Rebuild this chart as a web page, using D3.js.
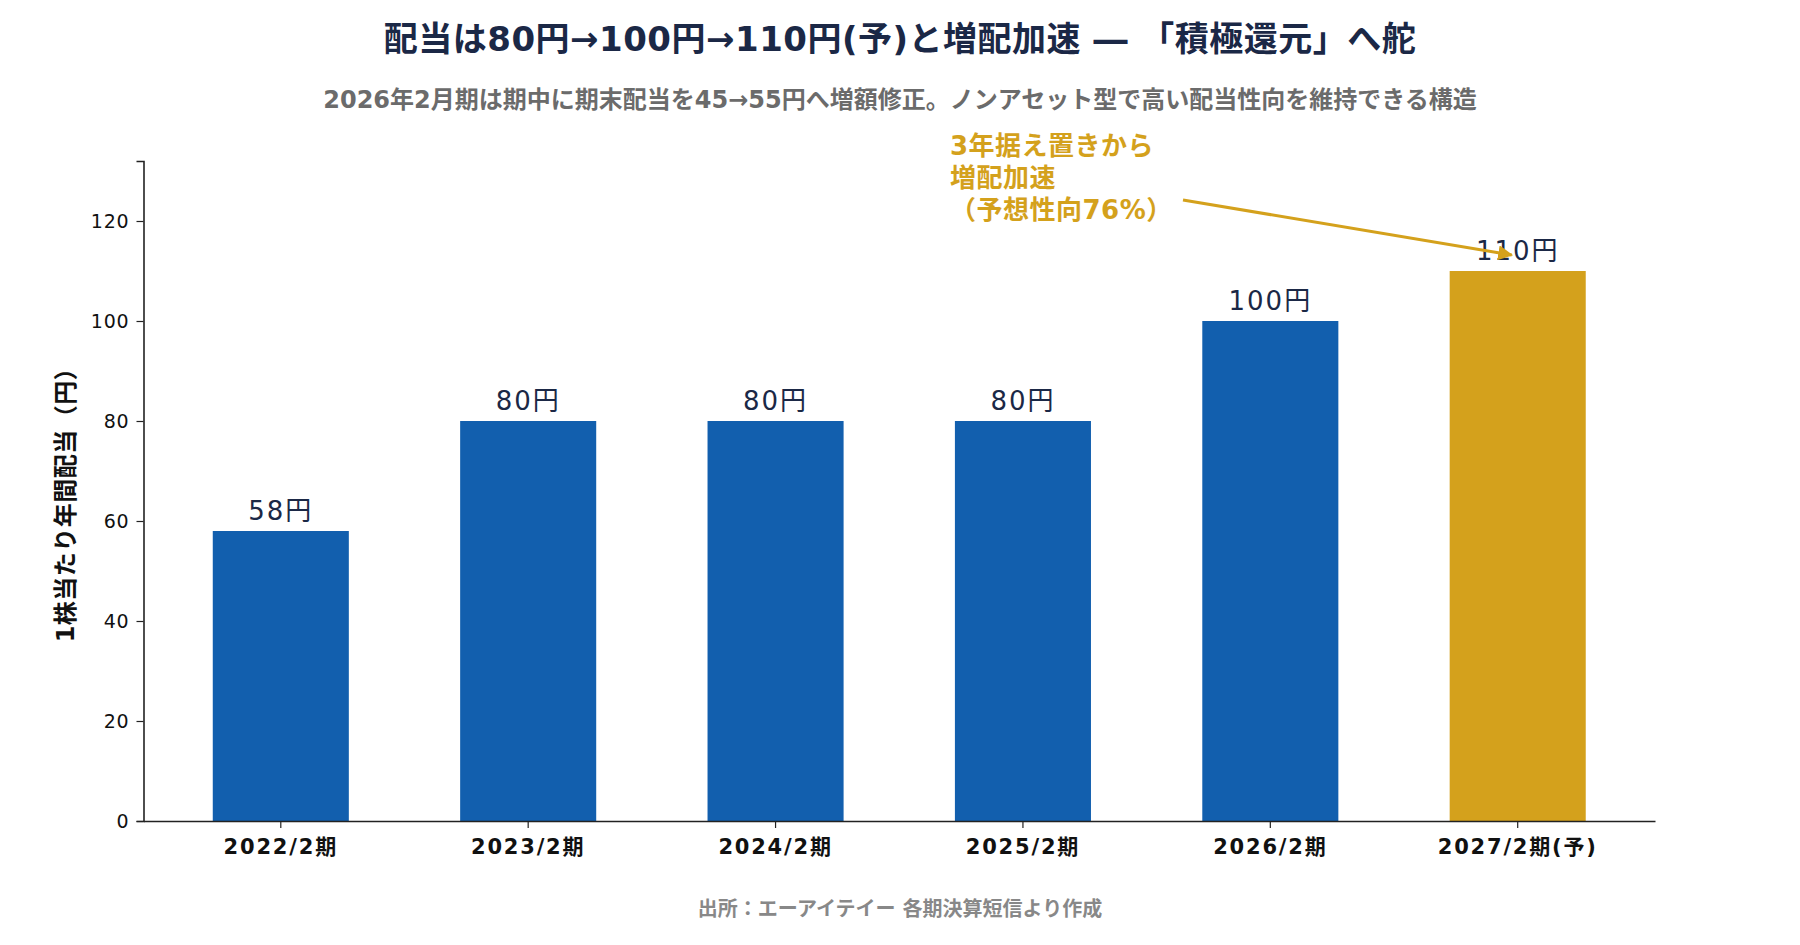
<!DOCTYPE html>
<html>
<head>
<meta charset="utf-8">
<script src="https://cdn.jsdelivr.net/npm/d3@7"></script>
<style>
  body { margin: 0; background: #fff; }
  text { font-family: "DejaVu Sans", "Noto Sans CJK JP", sans-serif; }
</style>
</head>
<body>
<svg id="chart"></svg>
<script>
// data
const periods = ["2022/2期", "2023/2期", "2024/2期", "2025/2期", "2026/2期", "2027/2期(予)"];
const dividends = [58, 80, 80, 80, 100, 110];
const forecast = [false, false, false, false, false, true];
const yTicks = [0, 20, 40, 60, 80, 100, 120];

const width = 1800, height = 945;
const margin = { top: 161, right: 145, bottom: 124, left: 143.5 };
const navy = "#1b2846";
const blue = "#125fae";
const gold = "#d4a11c";

const svg = d3.select("#chart").attr("width", width).attr("height", height);

let x = d3.scaleBand()
  .domain(periods)
  .range([margin.left, width - margin.right])
  .paddingInner(0.45)
  .paddingOuter(0.28);

let y = d3.scaleLinear()
  .domain([0, 132])
  .range([height - margin.bottom, margin.top]);

//title
svg.append("text")
  .attr("x", 900).attr("y", 51)
  .attr("text-anchor", "middle")
  .attr("fill", navy)
  .style("font-size", "34px").style("font-weight", 700)
  .style("letter-spacing", "0.5px")
  .text("配当は80円→100円→110円(予)と増配加速 ― 「積極還元」へ舵");

svg.append("text")
  .attr("x", 900).attr("y", 108)
  .attr("text-anchor", "middle")
  .attr("fill", "#6b6b6b")
  .style("font-size", "24px").style("font-weight", 700)
  .text("2026年2月期は期中に期末配当を45→55円へ増額修正。ノンアセット型で高い配当性向を維持できる構造");

//bars
svg.append("g")
  .selectAll("rect")
  .data(periods)
  .join("rect")
  .attr("x", d => x(d))
  .attr("width", x.bandwidth())
  .attr("y", (d, i) => y(dividends[i]))
  .attr("height", (d, i) => y(0) - y(dividends[i]))
  .attr("fill", (d, i) => forecast[i] ? gold : blue);

//value labels
svg.append("g")
  .selectAll("text")
  .data(periods)
  .join("text")
  .attr("x", d => x(d) + x.bandwidth() / 2)
  .attr("y", (d, i) => y(dividends[i]) - 11)
  .attr("text-anchor", "middle")
  .attr("fill", navy)
  .style("font-size", "26px")
  .style("letter-spacing", "2px")
  .text((d, i) => dividends[i] + "円");

//axes
const yAxis = svg.append("g")
  .attr("transform", `translate(${margin.left},0)`)
  .call(d3.axisLeft(y).tickValues(yTicks).tickSize(7).tickPadding(7));
yAxis.select(".domain").attr("stroke", "#222").attr("stroke-width", 1.6);
yAxis.selectAll(".tick line").attr("stroke", "#222").attr("stroke-width", 1.2);
yAxis.selectAll(".tick text")
  .attr("fill", "#111")
  .style("font-size", "19px")
  .style("letter-spacing", "0.8px")
  .style("font-family", "'DejaVu Sans', sans-serif");

const xAxis = svg.append("g")
  .attr("transform", `translate(0,${y(0)})`)
  .call(d3.axisBottom(x).tickSize(7).tickPadding(11).tickSizeOuter(0));
xAxis.select(".domain").attr("stroke", "#222").attr("stroke-width", 1.6);
xAxis.selectAll(".tick line").attr("stroke", "#222").attr("stroke-width", 1.2);
xAxis.selectAll(".tick text")
  .attr("fill", "#111")
  .style("font-size", "21px").style("font-weight", 700)
  .style("font-family", "'DejaVu Sans', 'Noto Sans CJK JP', sans-serif")
  .style("letter-spacing", "1.8px");

//y label
svg.append("text")
  .attr("transform", `translate(66,${(y(0) + margin.top) / 2 + 8}) rotate(-90)`)
  .attr("text-anchor", "middle")
  .attr("dominant-baseline", "central")
  .attr("fill", "#111")
  .style("font-size", "24px").style("font-weight", 700)
  .style("letter-spacing", "0.5px")
  .text("1株当たり年間配当（円）");

//annotation
const note = ["3年据え置きから", "増配加速", "（予想性向76%）"];
svg.append("g")
  .selectAll("text")
  .data(note)
  .join("text")
  .attr("x", 950)
  .attr("y", (d, i) => 155 + i * 32)
  .attr("fill", gold)
  .style("font-size", "26px").style("font-weight", 700)
  .style("letter-spacing", "0.5px")
  .text(d => d);

svg.append("defs").append("marker")
  .attr("id", "arrow")
  .attr("viewBox", "0 0 10 10")
  .attr("refX", 9).attr("refY", 5)
  .attr("markerWidth", 5).attr("markerHeight", 5)
  .attr("orient", "auto")
  .append("path")
  .attr("d", "M0,0 L10,5 L0,10 z")
  .attr("fill", gold);

svg.append("line")
  .attr("x1", 1183).attr("y1", 200)
  .attr("x2", x(periods[5]) + x.bandwidth() / 2 - 6)
  .attr("y2", y(dividends[5]) - 16)
  .attr("stroke", gold)
  .attr("stroke-width", 3)
  .attr("marker-end", "url(#arrow)");

//footer
svg.append("text")
  .attr("x", 900).attr("y", 916)
  .attr("text-anchor", "middle")
  .attr("fill", "#888")
  .style("font-size", "20px").style("font-weight", 700)
  .text("出所：エーアイテイー 各期決算短信より作成");
</script>
</body>
</html>
